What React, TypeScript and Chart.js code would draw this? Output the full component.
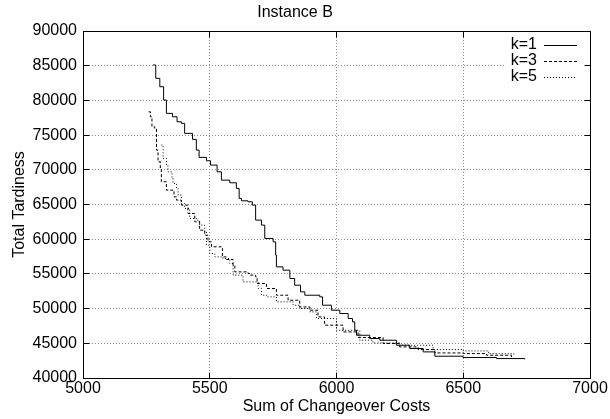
import React, { useEffect, useRef } from 'react';
import { Chart, registerables } from 'chart.js';
Chart.register(...registerables);

const CHART_TITLE = 'Instance B';
const X_TITLE = 'Sum of Changeover Costs';
const Y_TITLE = 'Total Tardiness';
const X_RANGE = [5000, 7000];
const Y_RANGE = [40000, 90000];
const X_STEP = 500;
const Y_STEP = 5000;
const SERIES_LABELS = ['k=1', 'k=3', 'k=5'];

const k1X = [5276, 5287, 5303, 5318, 5329, 5353, 5371, 5388, 5401, 5432, 5447, 5458, 5487, 5503, 5529, 5546, 5579, 5605, 5616, 5625, 5651, 5668, 5681, 5704, 5717, 5750, 5760, 5763, 5789, 5816, 5835, 5858, 5875, 5934, 5945, 5980, 6013, 6046, 6063, 6072, 6079, 6131, 6171, 6237, 6289, 6342, 6388, 6499, 6631, 6743];
const k1Y = [85100, 83180, 81970, 80050, 78130, 77640, 76920, 76690, 75250, 74380, 72840, 71790, 71300, 70680, 69710, 68510, 68130, 67320, 65880, 65530, 65390, 64910, 62750, 62030, 60110, 59620, 57700, 56010, 55540, 54340, 53370, 52410, 51930, 51690, 50490, 49770, 49290, 48570, 48080, 46880, 46160, 45690, 45440, 44720, 44250, 43760, 43140, 42950, 42800, 42700];

const k3X = [5259, 5266, 5272, 5283, 5290, 5290, 5296, 5305, 5309, 5329, 5355, 5359, 5369, 5388, 5414, 5441, 5460, 5480, 5493, 5507, 5546, 5550, 5566, 5592, 5599, 5651, 5658, 5681, 5687, 5724, 5763, 5809, 5855, 5895, 5927, 5953, 6026, 6085, 6184, 6249, 6322, 6388, 6500, 6592, 6690];
const k3Y = [78360, 77640, 76200, 75970, 75250, 72840, 71150, 70200, 68270, 67070, 66970, 66100, 65630, 64910, 63710, 62500, 61300, 60580, 59620, 58900, 58670, 57450, 57080, 56260, 55290, 55060, 54820, 54570, 53620, 52900, 51930, 51210, 50240, 49770, 48800, 47610, 46640, 45830, 44970, 44480, 44100, 43610, 43520, 43280, 43030];

const k5X = [5309, 5316, 5329, 5335, 5351, 5355, 5369, 5375, 5388, 5401, 5421, 5447, 5460, 5480, 5487, 5500, 5520, 5552, 5579, 5592, 5631, 5691, 5704, 5724, 5763, 5829, 5855, 5895, 5921, 6000, 6092, 6144, 6249, 6381, 6500, 6600, 6700];
const k5Y = [73560, 71640, 70680, 69710, 68760, 68040, 67320, 66350, 65150, 64430, 62990, 62750, 62030, 61060, 59140, 57940, 57450, 57220, 56500, 54820, 53850, 52900, 51930, 51690, 50970, 50490, 50010, 49520, 48570, 46880, 45440, 45050, 44720, 44100, 43900, 43500, 43200];

const FONT = "'Liberation Sans', Arial, Helvetica, sans-serif";

const toPoints = (xs: number[], ys: number[]) => xs.map((x, i) => ({ x, y: ys[i] }));
const al = (p: number) => Math.round(p - 0.5) + 0.5;

const gnuFrame = {
  id: 'gnuFrame',
  beforeDatasetsDraw(chart: any) {
    const { ctx, chartArea: a } = chart;
    ctx.save();
    ctx.fillStyle = '#fff';
    ctx.fillRect(a.right - 84, a.top + 1, 83, 54);
    ctx.restore();
  },
  afterDatasetsDraw(chart: any) {
    const { ctx, chartArea: a, scales } = chart;
    const L = al(a.left), R = al(a.right), T = al(a.top), B = al(a.bottom);
    ctx.save();
    ctx.strokeStyle = '#000';
    ctx.lineWidth = 1;
    ctx.setLineDash([]);
    const tl = 6;
    ctx.beginPath();
    scales.x.ticks.forEach((t: any) => {
      const px = al(scales.x.getPixelForValue(t.value));
      ctx.moveTo(px, B); ctx.lineTo(px, B - tl);
      ctx.moveTo(px, T); ctx.lineTo(px, T + tl);
    });
    scales.y.ticks.forEach((t: any) => {
      const py = al(scales.y.getPixelForValue(t.value));
      ctx.moveTo(L, py); ctx.lineTo(L + tl, py);
      ctx.moveTo(R, py); ctx.lineTo(R - tl, py);
    });
    ctx.stroke();
    ctx.strokeRect(L, T, R - L, B - T);

    // key
    chart.data.datasets.forEach((d: any, i: number) => {
      const y = Math.round(a.top + 14 + i * 16);
      ctx.font = `16px ${FONT}`;
      ctx.textAlign = 'right';
      ctx.textBaseline = 'middle';
      ctx.fillStyle = '#000';
      ctx.fillText(d.label, a.right - 53, y);
      ctx.setLineDash(d.borderDash || []);
      ctx.beginPath();
      ctx.moveTo(a.right - 46, y + 0.5);
      ctx.lineTo(a.right - 13, y + 0.5);
      ctx.stroke();
    });
    ctx.restore();
  },
};

export default function App() {
  const ref = useRef<HTMLCanvasElement>(null);
  useEffect(() => {
    if (!ref.current) return;
    const common = { pointRadius: 0, borderWidth: 1, borderColor: '#000', stepped: true, tension: 0, fill: false };
    const chart = new Chart(ref.current, {
      type: 'line',
      data: {
        datasets: [
          { ...common, label: SERIES_LABELS[0], data: toPoints(k1X, k1Y), borderDash: [] },
          { ...common, label: SERIES_LABELS[1], data: toPoints(k3X, k3Y), borderDash: [3, 2] },
          { ...common, label: SERIES_LABELS[2], data: toPoints(k5X, k5Y), borderDash: [1, 2] },
        ],
      } as any,
      options: {
        responsive: false,
        animation: false,
        devicePixelRatio: 1,
        layout: { padding: { left: 0, right: 20, top: 0, bottom: 0 } },
        plugins: {
          legend: { display: false },
          tooltip: { enabled: false },
          title: {
            display: true,
            text: CHART_TITLE,
            color: '#000',
            font: { family: FONT, size: 16, weight: 'normal' as any },
            padding: { top: 3.4, bottom: 8.4 },
          },
        },
        scales: {
          x: {
            type: 'linear',
            min: X_RANGE[0],
            max: X_RANGE[1],
            afterFit: (s: any) => { s.height = 41; },
            ticks: { stepSize: X_STEP, color: '#000', padding: 1, font: { family: FONT, size: 16 }, callback: (v: any) => String(v) },
            grid: { color: '#888', lineWidth: 1, drawTicks: false },
            border: { display: false, dash: [1, 2] },
            title: { display: true, text: X_TITLE, color: '#000', font: { family: FONT, size: 16 }, padding: { top: 0, bottom: 3 } },
          },
          y: {
            type: 'linear',
            min: Y_RANGE[0],
            max: Y_RANGE[1],
            afterFit: (s: any) => { s.width = 83; },
            ticks: { stepSize: Y_STEP, color: '#000', padding: 6, font: { family: FONT, size: 16 }, callback: (v: any) => String(v) },
            grid: { color: '#888', lineWidth: 1, drawTicks: false },
            border: { display: false, dash: [1, 2] },
            title: { display: true, text: Y_TITLE, color: '#000', font: { family: FONT, size: 16 }, padding: { top: 10, bottom: 0 } },
          },
        },
      } as any,
      plugins: [gnuFrame],
    });
    return () => chart.destroy();
  }, []);
  return (
    <div style={{ position: 'absolute', left: 0, top: 0, width: 610, height: 419, background: '#fff' }}>
      <canvas ref={ref} width={610} height={419} />
    </div>
  );
}
